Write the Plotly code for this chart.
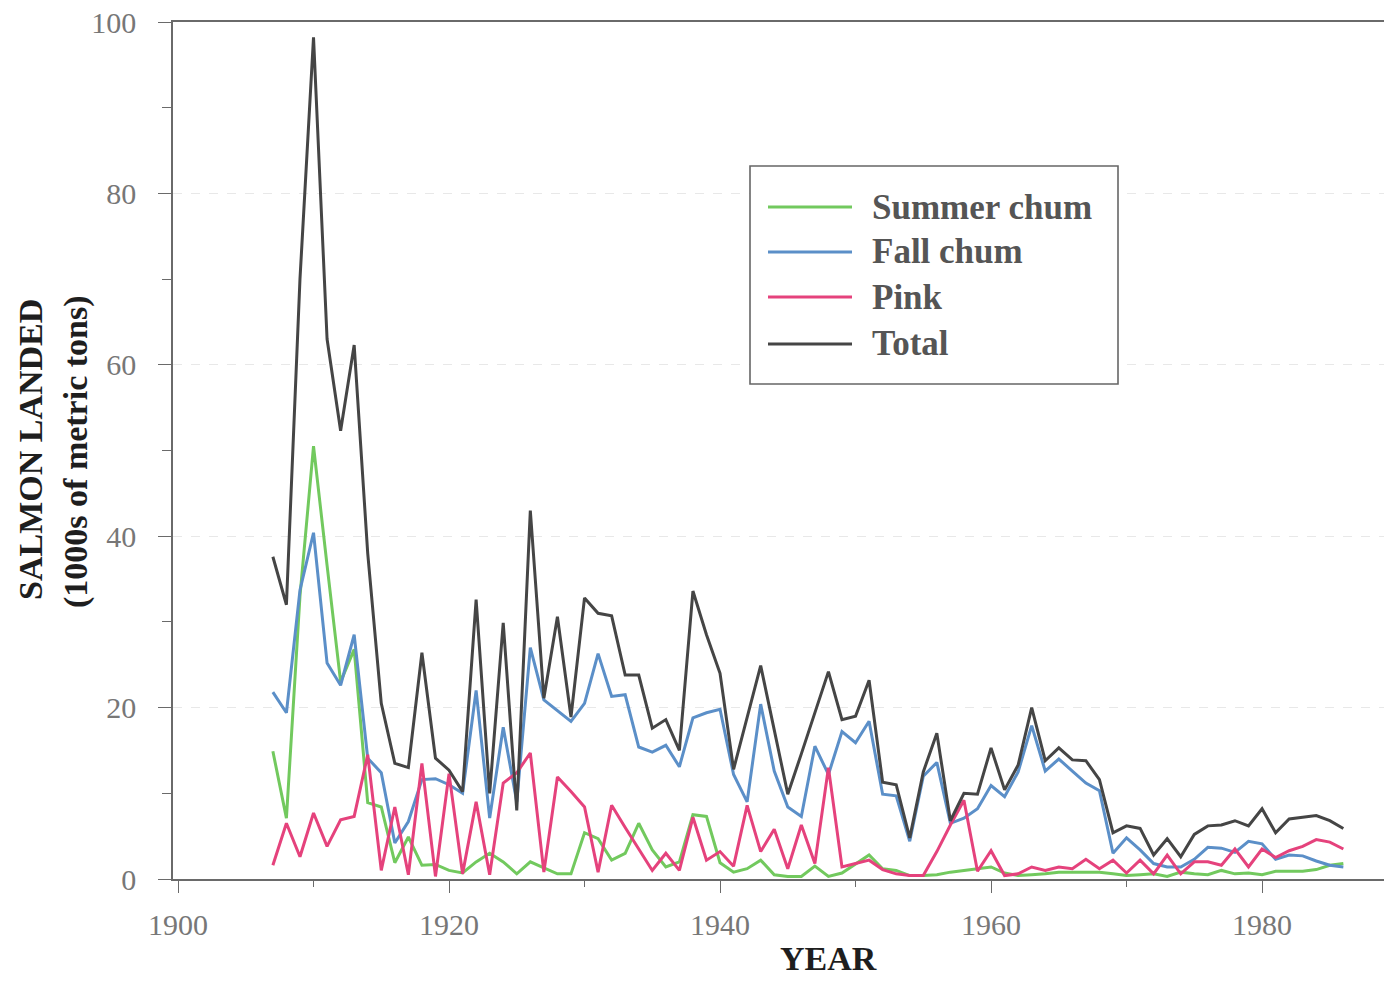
import plotly.graph_objects as go

years = list(range(1907, 1987))

summer_chum = [14.9, 7.1, 33.0, 50.5, 36.6, 23.0, 26.8, 8.9, 8.4, 1.9,
               4.9, 1.6, 1.7, 1.0, 0.7, 2.0, 3.0, 2.0, 0.6, 2.0,
               1.3, 0.6, 0.6, 5.4, 4.7, 2.2, 3.0, 6.5, 3.4, 1.4,
               2.0, 7.5, 7.3, 1.9, 0.8, 1.2, 2.2, 0.5, 0.3, 0.3,
               1.5, 0.3, 0.7, 1.8, 2.8, 1.2, 1.0, 0.4, 0.4, 0.5,
               0.8, 1.0, 1.2, 1.4, 0.7, 0.4, 0.5, 0.6, 0.8, 0.8,
               0.8, 0.8, 0.6, 0.4, 0.5, 0.6, 0.3, 0.8, 0.6, 0.5,
               1.0, 0.6, 0.7, 0.5, 0.9, 0.9, 0.9, 1.1, 1.6, 1.8]

fall_chum = [21.8, 19.4, 33.7, 40.4, 25.2, 22.6, 28.5, 14.1, 12.4, 4.2,
             6.7, 11.6, 11.7, 11.0, 10.0, 22.0, 7.1, 17.7, 9.0, 27.0,
             20.9, 19.7, 18.4, 20.5, 26.3, 21.3, 21.5, 15.4, 14.8, 15.6,
             13.1, 18.8, 19.4, 19.8, 12.2, 9.0, 20.4, 12.6, 8.4, 7.3,
             15.5, 12.2, 17.2, 15.9, 18.4, 9.9, 9.7, 4.4, 12.0, 13.6,
             6.5, 7.1, 8.2, 10.9, 9.6, 12.5, 17.9, 12.6, 14.0, 12.6,
             11.2, 10.3, 3.0, 4.8, 3.4, 1.8, 1.4, 1.4, 2.3, 3.7,
             3.6, 3.1, 4.4, 4.1, 2.3, 2.8, 2.7, 2.1, 1.6, 1.4]

pink = [1.6, 6.5, 2.6, 7.7, 3.8, 6.9, 7.3, 14.5, 1.0, 8.4,
        0.5, 13.5, 0.3, 12.3, 0.6, 9.0, 0.5, 11.2, 12.4, 14.7,
        0.8, 11.9, 10.2, 8.4, 0.8, 8.6, 6.0, 3.5, 1.0, 3.0,
        1.0, 7.2, 2.2, 3.2, 1.5, 8.6, 3.2, 5.8, 1.2, 6.3,
        1.8, 13.0, 1.4, 1.8, 2.2, 1.1, 0.6, 0.4, 0.4, 3.2,
        6.3, 9.2, 0.9, 3.3, 0.4, 0.6, 1.4, 1.0, 1.4, 1.2,
        2.3, 1.2, 2.2, 0.7, 2.2, 0.6, 2.8, 0.6, 2.0, 2.0,
        1.6, 3.5, 1.4, 3.5, 2.5, 3.3, 3.8, 4.6, 4.3, 3.5]

total = [37.6, 32.0, 70.0, 98.2, 63.0, 52.3, 62.3, 38.0, 20.5, 13.5,
         13.0, 26.4, 14.1, 12.7, 10.2, 32.6, 10.0, 29.9, 8.0, 43.0,
         21.1, 30.6, 18.9, 32.8, 31.0, 30.7, 23.8, 23.8, 17.6, 18.6,
         15.0, 33.6, 28.5, 24.0, 12.8, 18.8, 24.9, 17.4, 9.9, 14.6,
         19.4, 24.2, 18.6, 19.0, 23.2, 11.3, 11.0, 4.8, 12.5, 17.0,
         6.8, 10.0, 9.9, 15.3, 10.4, 13.3, 20.0, 13.8, 15.3, 13.9,
         13.8, 11.6, 5.4, 6.2, 5.9, 2.8, 4.7, 2.6, 5.2, 6.2,
         6.3, 6.8, 6.2, 8.2, 5.4, 7.0, 7.2, 7.4, 6.8, 5.9]

series_names = ["Summer chum", "Fall chum", "Pink", "Total"]
series_values = [summer_chum, fall_chum, pink, total]
series_colors = ["#72c95e", "#5b8fc8", "#e5427c", "#454545"]

x_tickvals = [1900, 1920, 1940, 1960, 1980]
y_tickvals = [0, 20, 40, 60, 80, 100]

W, H = 1384, 981
L, R, T, B = 173, 0, 22, 102
PW, PH = W - L - R, H - T - B


def px(x):
    return (x - L) / PW


def py(y):
    return (H - B - y) / PH


serif = "Liberation Serif, Times New Roman, serif"

fig = go.Figure()
for name, vals, col in zip(series_names, series_values, series_colors):
    fig.add_trace(go.Scatter(x=years, y=vals, mode="lines", name=name,
                             line=dict(color=col, width=3), showlegend=False))

fig.update_layout(
    width=W, height=H,
    margin=dict(l=L, r=R, t=T, b=B, pad=0),
    paper_bgcolor="white", plot_bgcolor="white",
    font=dict(family=serif, color="#777777"),
    xaxis=dict(range=[1899.63, 1989.0], tickvals=x_tickvals,
               ticktext=[str(v) for v in x_tickvals],
               showgrid=False, zeroline=False,
               showline=True, linecolor="#6a6a6a", linewidth=1.6, mirror=True,
               ticks="outside", ticklen=12, tickwidth=1.4, tickcolor="#6a6a6a",
               minor=dict(dtick=10, tick0=1900, ticks="outside", ticklen=6,
                          tickwidth=1.2, tickcolor="#6a6a6a"),
               tickfont=dict(family=serif, size=30, color="#777777"),
               ticklabelstandoff=6),
    yaxis=dict(range=[0, 100], tickvals=y_tickvals,
               ticktext=[str(v) for v in y_tickvals],
               showgrid=True, gridcolor="#e8e8e8", griddash="dash", gridwidth=1,
               zeroline=False,
               showline=True, linecolor="#6a6a6a", linewidth=1.6,
               ticks="outside", ticklen=13, tickwidth=1.4, tickcolor="#6a6a6a",
               minor=dict(dtick=10, tick0=0, ticks="outside", ticklen=9,
                          tickwidth=1.2, tickcolor="#6a6a6a", showgrid=False),
               tickfont=dict(family=serif, size=30, color="#777777"),
               ticklabelstandoff=16),
)

# axis titles
title_font = dict(family=serif, size=34, color="#1e1e1e")
fig.add_annotation(text="<b>YEAR</b>", xref="paper", yref="paper",
                   x=px(828), y=py(958), showarrow=False, font=title_font,
                   xanchor="center", yanchor="middle")
fig.add_annotation(text="<b>SALMON LANDED</b>", xref="paper", yref="paper",
                   x=px(30), y=py(450), showarrow=False, font=title_font,
                   textangle=-90, xanchor="center", yanchor="middle")
fig.add_annotation(text="<b>(1000s of metric tons)</b>", xref="paper", yref="paper",
                   x=px(76), y=py(452), showarrow=False, font=title_font,
                   textangle=-90, xanchor="center", yanchor="middle")

# legend box
fig.add_shape(type="rect", xref="paper", yref="paper",
              x0=px(750), x1=px(1118), y0=py(384), y1=py(166),
              line=dict(color="#666666", width=1.6), fillcolor="white", layer="above")
row_y = [207, 252, 297, 344]
for name, col, ry in zip(series_names, series_colors, row_y):
    fig.add_shape(type="line", xref="paper", yref="paper",
                  x0=px(768), x1=px(852), y0=py(ry), y1=py(ry),
                  line=dict(color=col, width=2.8), layer="above")
    fig.add_annotation(text="<b>" + name + "</b>", xref="paper", yref="paper",
                       x=px(870), y=py(ry), showarrow=False,
                       xanchor="left", yanchor="middle",
                       font=dict(family=serif, size=35, color="#555555"))

fig.write_html("out.html")
